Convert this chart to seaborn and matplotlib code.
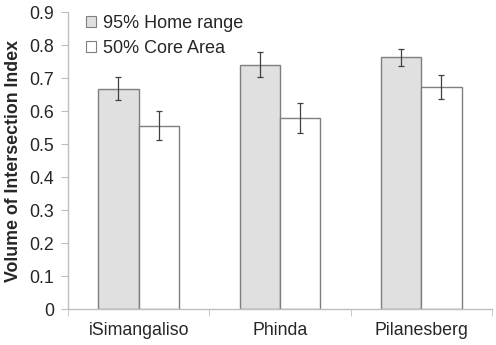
import matplotlib
matplotlib.use("Agg")
import matplotlib.pyplot as plt
import seaborn as sns
import pandas as pd
import numpy as np

sites = ["iSimangaliso", "Phinda", "Pilanesberg"]
series = ["95% Home range", "50% Core Area"]
home_range = [0.668, 0.741, 0.763]
core_area = [0.556, 0.580, 0.674]
home_err = [0.035, 0.038, 0.026]
core_err = [0.044, 0.045, 0.036]

df = pd.DataFrame({
    "Site": sites * 2,
    "Series": [series[0]] * 3 + [series[1]] * 3,
    "Value": home_range + core_area,
    "Err": home_err + core_err,
})

sns.set_style("white")
plt.rcParams["font.family"] = ["Liberation Sans", "DejaVu Sans"]

fig = plt.figure(figsize=(4.96, 3.45), dpi=100)
ax = fig.add_axes([0.137, 0.104, 0.855, 0.861])

sns.barplot(data=df, x="Site", y="Value", hue="Series", hue_order=series,
            order=sites, palette=["#e0e0e0", "#ffffff"], width=0.57,
            edgecolor="#7f7f7f", linewidth=1.0, errorbar=None, ax=ax,
            saturation=1)

# error bars at bar centres
for cont, s in zip(ax.containers, series):
    sub = df[df["Series"] == s].set_index("Site").loc[sites]
    xs = [p.get_x() + p.get_width() / 2 for p in cont.patches]
    ax.errorbar(xs, sub["Value"].values, yerr=sub["Err"].values, fmt="none",
                ecolor="#404040", elinewidth=0.9, capsize=2, capthick=0.9)

ax.set_ylim(0, 0.9)
ax.set_xlim(-0.5, 2.5)
ax.set_yticks(np.arange(0, 0.91, 0.1))
ax.set_yticklabels(["0"] + [f"{v:.1f}" for v in np.arange(0.1, 0.91, 0.1)])
ax.set_xlabel("")
ax.set_ylabel("Volume of Intersection Index", fontsize=12.8, fontweight="bold",
              labelpad=5)

ax.set_xticks([-0.5, 0.5, 1.5, 2.5], minor=True)
ax.tick_params(axis="x", which="major", length=0, labelsize=12.8, pad=9)
ax.tick_params(axis="x", which="minor", length=5, color="#bfbfbf", direction="out", bottom=True)
ax.tick_params(axis="y", length=5, color="#bfbfbf", direction="out", labelsize=12.8,
               left=True, pad=5)

for side in ["top", "right"]:
    ax.spines[side].set_visible(False)
for side in ["left", "bottom"]:
    ax.spines[side].set_color("#bfbfbf")
    ax.spines[side].set_linewidth(1.0)

leg = ax.legend(loc="upper left", bbox_to_anchor=(0.005, 1.045), frameon=False,
                fontsize=13, handlelength=0.55, handleheight=0.55,
                handletextpad=0.35, labelspacing=0.45)
for h in leg.legend_handles:
    h.set_edgecolor("#7f7f7f")
    h.set_linewidth(0.8)

fig.savefig("out.png", dpi=100)
